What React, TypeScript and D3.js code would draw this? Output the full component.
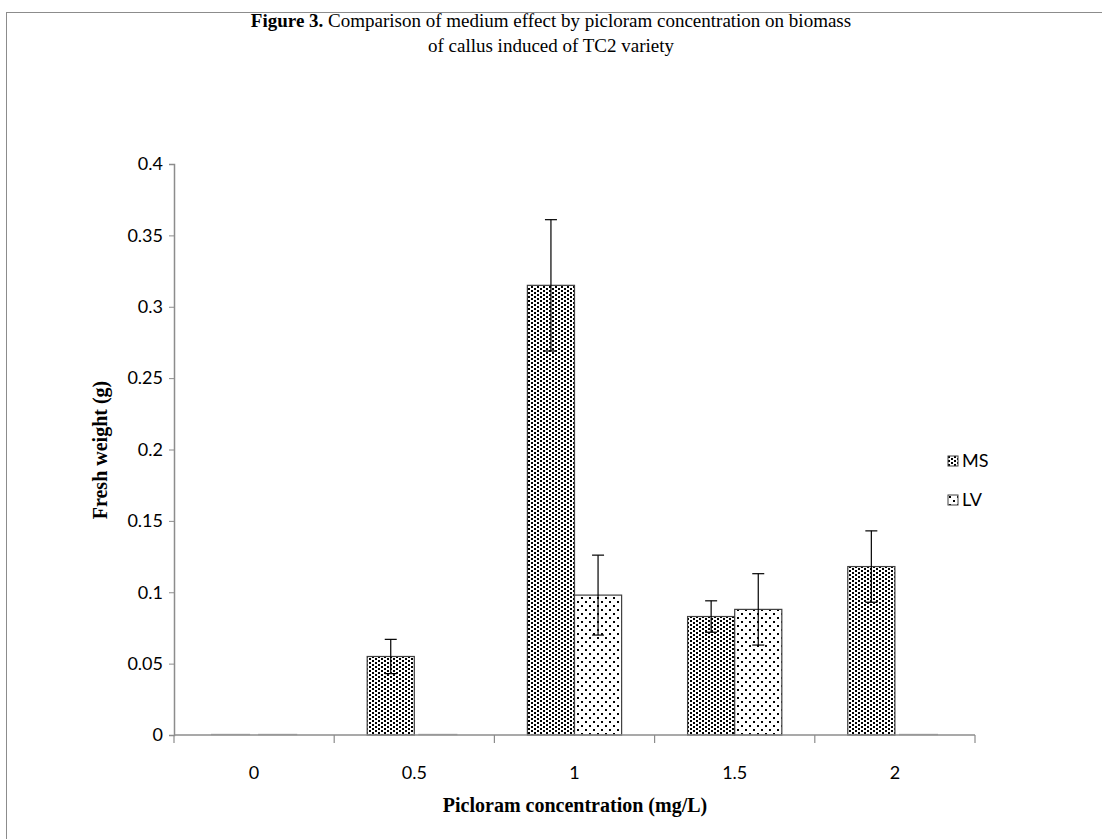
import React, { useEffect, useRef } from 'react';
import * as d3 from 'd3';

const categories = ['0', '0.5', '1', '1.5', '2'];
const msValues = [0, 0.055, 0.315, 0.083, 0.118];
const msErrors = [0, 0.012, 0.046, 0.011, 0.025];
const lvValues = [0, 0, 0.098, 0.088, 0];
const lvErrors = [0, 0, 0.028, 0.025, 0];
const yTicks = [0, 0.05, 0.1, 0.15, 0.2, 0.25, 0.3, 0.35, 0.4];
const seriesNames = ['MS', 'LV'];

const App = () => {
    const svgRef = useRef(null);

    useEffect(() => {
        const svg = d3.select(svgRef.current);
        svg.selectAll('*').remove();

        const left = 174, right = 975, top = 164, bottom = 735;

        // Patterns
        const defs = svg.append('defs');
        const pMS = defs.append('pattern').attr('id', 'pat-ms')
            .attr('patternUnits', 'userSpaceOnUse').attr('width', 6).attr('height', 4);
        pMS.append('rect').attr('width', 6).attr('height', 4).attr('fill', '#fff');
        pMS.append('rect').attr('x', 0).attr('y', 0).attr('width', 2).attr('height', 2).attr('fill', '#000');
        pMS.append('rect').attr('x', 3).attr('y', 2).attr('width', 2).attr('height', 2).attr('fill', '#000');

        const pLV = defs.append('pattern').attr('id', 'pat-lv')
            .attr('patternUnits', 'userSpaceOnUse').attr('width', 8).attr('height', 8);
        pLV.append('rect').attr('width', 8).attr('height', 8).attr('fill', '#fff');
        pLV.append('rect').attr('x', 1).attr('y', 1).attr('width', 2).attr('height', 2).attr('fill', '#000');
        pLV.append('rect').attr('x', 5).attr('y', 5).attr('width', 2).attr('height', 2).attr('fill', '#000');

        // Outer border
        svg.append('rect').attr('x', 6.5).attr('y', 12.5).attr('width', 1100).attr('height', 840)
            .attr('fill', '#fff').attr('stroke', '#8c8c8c').attr('stroke-width', 1);

        // Title
        const title = svg.append('text').attr('x', 551).attr('y', 27)
            .attr('text-anchor', 'middle')
            .style('font-family', '"Liberation Serif", serif').style('font-size', '19px').style('fill', '#000');
        title.append('tspan').style('font-weight', 'bold').text('Figure 3.');
        title.append('tspan').text(' Comparison of medium effect by picloram concentration on biomass');
        svg.append('text').attr('x', 551).attr('y', 52).attr('text-anchor', 'middle')
            .style('font-family', '"Liberation Serif", serif').style('font-size', '19px').style('fill', '#000')
            .text('of callus induced of TC2 variety');

        const x = d3.scaleBand().domain(categories).range([left, right]);
        const inner = d3.scaleBand().domain(seriesNames).range([0, x.bandwidth()]).paddingOuter(0.7).paddingInner(0);
        const y = d3.scaleLinear().domain([0, 0.4]).range([bottom, top]);

        // Y axis
        const yAxis = svg.append('g').attr('transform', `translate(${left},0)`)
            .call(d3.axisLeft(y).tickValues(yTicks).tickSize(5).tickFormat(d => String(+d)));
        yAxis.select('.domain').attr('stroke', '#8c8c8c').attr('stroke-width', 1.5);
        yAxis.selectAll('.tick line').attr('stroke', '#8c8c8c');
        yAxis.selectAll('.tick text').attr('x', -11)
            .style('font-family', 'Lato, "Open Sans", sans-serif').style('font-size', '18px').style('fill', '#000');

        // Bars
        const series = [
            { name: 'MS', values: msValues, errors: msErrors, fill: 'url(#pat-ms)' },
            { name: 'LV', values: lvValues, errors: lvErrors, fill: 'url(#pat-lv)' },
        ];
        series.forEach(s => {
            const g = svg.append('g');
            categories.forEach((c, i) => {
                const bx = x(c) + inner(s.name);
                const v = s.values[i];
                if (v > 0) {
                    g.append('rect').attr('x', bx).attr('y', y(v))
                        .attr('width', inner.bandwidth()).attr('height', y(0) - y(v))
                        .attr('fill', s.fill).attr('stroke', '#404040').attr('stroke-width', 1.2);
                } else {
                    g.append('line').attr('x1', bx + 4).attr('x2', bx + inner.bandwidth() - 4)
                        .attr('y1', y(0) - 0.5).attr('y2', y(0) - 0.5)
                        .attr('stroke', '#bbb').attr('stroke-width', 1.5);
                }
            });
        });

        // X axis
        const xAxis = svg.append('g').attr('transform', `translate(0,${bottom})`);
        xAxis.append('line').attr('x1', left).attr('x2', right).attr('stroke', '#8c8c8c').attr('stroke-width', 1.5);
        d3.range(categories.length + 1).forEach(i => {
            const tx = left + i * x.step();
            xAxis.append('line').attr('x1', tx).attr('x2', tx).attr('y1', 0).attr('y2', 8)
                .attr('stroke', '#8c8c8c').attr('stroke-width', 1.2);
        });
        categories.forEach(c => {
            xAxis.append('text').attr('x', x(c) + x.bandwidth() / 2).attr('y', 44)
                .attr('text-anchor', 'middle')
                .style('font-family', 'Lato, "Open Sans", sans-serif').style('font-size', '18px').style('fill', '#000')
                .text(c);
        });

        // Error bars
        series.forEach(s => {
            const g = svg.append('g');
            categories.forEach((c, i) => {
                const v = s.values[i], e = s.errors[i];
                if (e <= 0) return;
                const cx = x(c) + inner(s.name) + inner.bandwidth() / 2;
                g.append('line').attr('x1', cx).attr('x2', cx).attr('y1', y(v + e)).attr('y2', y(v - e))
                    .attr('stroke', '#000').attr('stroke-width', 1.2);
                [v + e, v - e].forEach(val => {
                    g.append('line').attr('x1', cx - 6).attr('x2', cx + 6).attr('y1', y(val)).attr('y2', y(val))
                        .attr('stroke', '#000').attr('stroke-width', 1.2);
                });
            });
        });

        // Axis titles
        svg.append('text').attr('x', 575).attr('y', 812).attr('text-anchor', 'middle')
            .style('font-family', '"Liberation Serif", serif').style('font-size', '20px').style('font-weight', 'bold')
            .text('Picloram concentration (mg/L)');
        svg.append('text').attr('transform', 'translate(107,450) rotate(-90)').attr('text-anchor', 'middle')
            .style('font-family', '"Liberation Serif", serif').style('font-size', '20px').style('font-weight', 'bold')
            .text('Fresh weight (g)');

        // Legend
        const legend = svg.append('g').attr('transform', 'translate(948,456)');
        series.forEach((s, i) => {
            const row = legend.append('g').attr('transform', `translate(0,${i * 39})`);
            row.append('rect').attr('width', 10).attr('height', 10)
                .attr('fill', s.fill).attr('stroke', '#404040').attr('stroke-width', 1);
            row.append('text').attr('x', 14).attr('y', 11)
                .style('font-family', 'Lato, "Open Sans", sans-serif').style('font-size', '18px').style('fill', '#000')
                .text(s.name);
        });
    }, []);

    return (
        <svg ref={svgRef} width={1102} height={839}
            style={{ position: 'absolute', left: 0, top: 0, display: 'block' }}></svg>
    );
};

export default App;
